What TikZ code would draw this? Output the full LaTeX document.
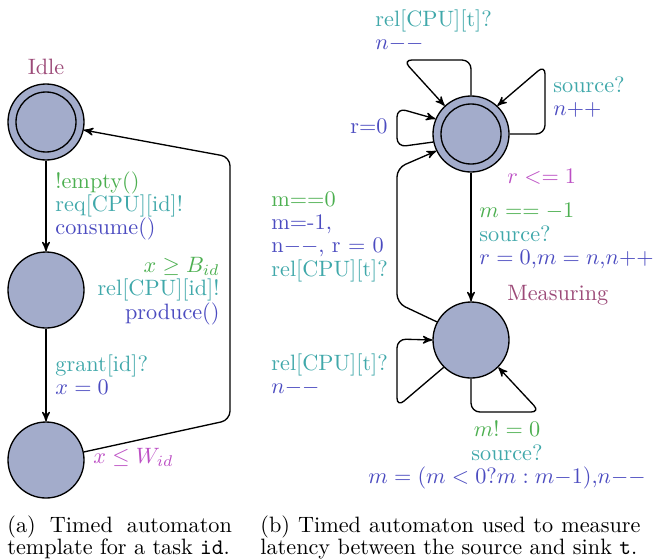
\documentclass[tikz,border=0pt]{standalone}
\usepackage{amsmath}
\usepackage{amssymb}
\usepackage{tikz}
\usetikzlibrary{arrows}
\definecolor{namecol}{HTML}{9C4A78}
\definecolor{guardcol}{HTML}{4CAF50}
\definecolor{synccol}{HTML}{40A8AA}
\definecolor{updcol}{HTML}{4B4BC0}
\definecolor{invcol}{HTML}{BC4FC4}
\definecolor{locfill}{HTML}{A3ACCB}
\begin{document}
\begin{tikzpicture}[x=0.45pt,y=-0.45pt,>=stealth',
	loc/.style={circle,draw,semithick,fill=locfill,minimum size=34.2pt,inner sep=0pt},
	initloc/.style={loc,path picture={\draw[semithick] (path picture bounding box.center) circle (13.5pt);}},
	lbl/.style={inner sep=0pt,align=left,font=\fontsize{10pt}{10.5pt}\selectfont},
	caption/.style={inner sep=0pt,align=left,anchor=north west,font=\fontsize{10pt}{9.9pt}\selectfont}]
	\useasboundingbox (0,0) rectangle (658,559);

	% (a) task template
	\node[initloc] (a0) at (46,122) {};
	\node[loc] (a1) at (46,290) {};
	\node[loc] (a2) at (46,460) {};
	\node[anchor=base,inner sep=0pt,text=namecol] (a0name) at (46,74) {Idle};

	\node[lbl,anchor=north west] (l01) at (55,171) {\textcolor{guardcol}{!empty()}\\\textcolor{synccol}{req[CPU][id]!}\\\textcolor{updcol}{consume()}};
	\node[lbl,anchor=north west] (l12) at (55,354) {\textcolor{synccol}{grant[id]?}\\\textcolor{updcol}{$x = 0$}};
	\node[lbl,align=right,anchor=north east] (l20) at (220,257) {\textcolor{guardcol}{$x \geq B_{id}$}\\\textcolor{synccol}{rel[CPU][id]!}\\\textcolor{updcol}{produce()}};
	\node[anchor=base west,inner sep=0pt,text=invcol] (a2inv) at (93,463) {$x \leq W_{id}$};

	% (b) latency observer
	\node[initloc] (b0) at (471,134) {};
	\node[loc] (b1) at (471,340) {};
	\node[anchor=base west,inner sep=0pt,text=namecol] (b1name) at (507,300) {Measuring};

	\node[lbl,anchor=north west] (lb0a) at (375,9) {\textcolor{synccol}{rel[CPU][t]?}\\\textcolor{updcol}{$n{-}{-}$}};
	\node[lbl,anchor=north west] (lb0b) at (553,76) {\textcolor{synccol}{source?}\\\textcolor{updcol}{$n{+}{+}$}};
	\node[anchor=base east,inner sep=0pt,text=updcol] (lb0c) at (388,133) {r=0};
	\node[anchor=base west,inner sep=0pt,text=invcol] (b0inv) at (507,183) {$r <= 1$};
	\node[lbl,anchor=north west] (lb01) at (479,203) {\textcolor{guardcol}{$m == -1$}\\\textcolor{synccol}{source?}\\\textcolor{updcol}{$r = 0$,$m = n$,$n{+}{+}$}};
	\node[lbl,anchor=north west] (lb10) at (271,191) {\textcolor{guardcol}{m==0}\\\textcolor{updcol}{m=-1,}\\\textcolor{updcol}{n$--$, r $=$ 0}\\\textcolor{synccol}{rel[CPU][t]?}};
	\node[lbl,anchor=north west] (lb1a) at (271,353) {\textcolor{synccol}{rel[CPU][t]?}\\\textcolor{updcol}{$n{-}{-}$}};
	\node[lbl,align=center,anchor=north] (lb1b) at (507,421) {\textcolor{guardcol}{$m! = 0$}\\\textcolor{synccol}{source?}\\\textcolor{updcol}{$m = (m < 0?m : m{-}1)$,$n{-}{-}$}};

	\node[caption,text width=101pt] (capa) at (7,515) {(a)\hfill Timed\hfill automaton\\template for a task \texttt{id}.};
	\node[caption,text width=171pt] (capb) at (260,515) {(b)\hfill Timed\hfill automaton\hfill used\hfill to\hfill measure\\latency between the source and sink \texttt{t}.};

	\begin{scope}[every path/.style={->,semithick,rounded corners=4pt}]
		\draw (a0) -- (a1);
		\draw (a1) -- (a2);
		\draw (a2.12) -- (230,420) -- (230,157) -- (a0.-12);

		\draw (b0.north) -- (471,60) -- (403,60) -- (b0.133);
		\draw (b0.east) -- (545,134) -- (545,65) -- (b0.47);
		\draw (b0.192) -- (397,147) -- (397,108) -- (b0.157);
		\draw (b0) -- (b1);
		\draw (b1.152) -- (397,303) -- (397,168) -- (b0.206);
		\draw (b1.225) -- (397,407) -- (397,339) -- (b1.west);
		\draw (b1.south) -- (471,412) -- (540,412) -- (b1.-45);
	\end{scope}
\end{tikzpicture}
\end{document}
